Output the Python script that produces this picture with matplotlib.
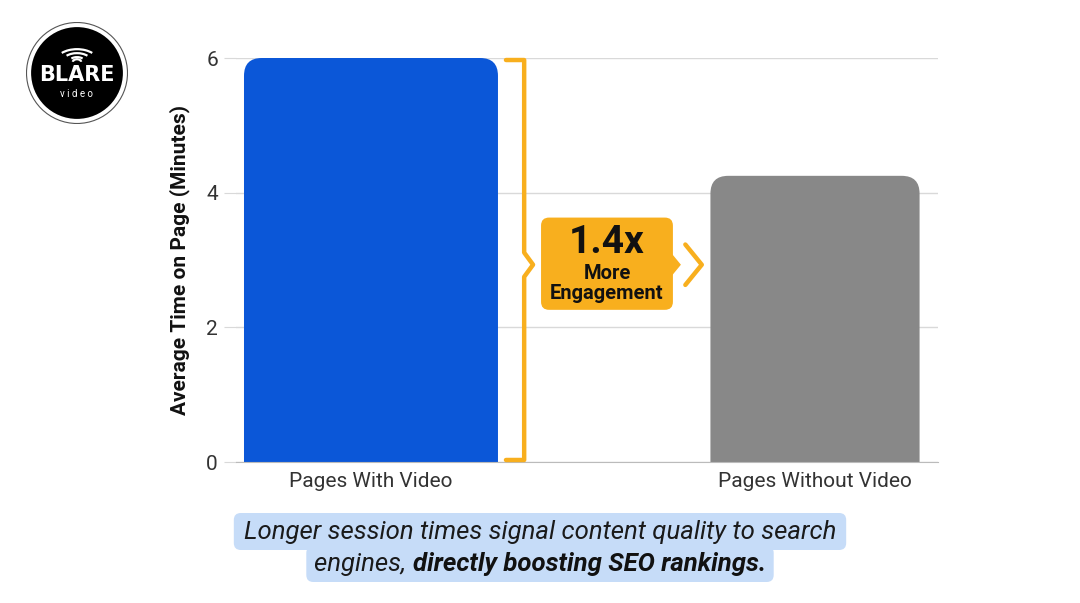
import matplotlib
matplotlib.use("Agg")
import matplotlib.pyplot as plt
from matplotlib.patches import FancyBboxPatch, Circle, Arc, Polygon
import numpy as np

categories = ["Pages With Video", "Pages Without Video"]
values = [6.0, 4.25]
bar_widths = [0.572, 0.471]
bar_colors = ["#0B57D8", "#888888"]
yticks = [0, 2, 4, 6]
ylabel = "Average Time on Page (Minutes)"
badge_big = "1.4x"
badge_small = "More\nEngagement"
caption_1 = "Longer session times signal content quality to search"
caption_2a = "engines, "
caption_2b = "directly boosting SEO rankings."

ORANGE = "#F8AF1E"
plt.rcParams["font.family"] = ["Roboto", "DejaVu Sans"]

fig = plt.figure(figsize=(10.8, 6.03), dpi=100)
ax = fig.add_axes([236 / 1080, 141 / 603, 702 / 1080, 404 / 603])

x = np.arange(len(categories))
bars = ax.bar(x, values, width=bar_widths, color=bar_colors)
# swap the plain bars for ones with rounded tops
for b in bars:
    b.set_visible(False)
    p = FancyBboxPatch((b.get_x(), -1), b.get_width(), b.get_height() + 1,
                       boxstyle="round,pad=0,rounding_size=0.04",
                       mutation_aspect=6.6, fc=b.get_facecolor(), ec="none",
                       zorder=2)
    ax.add_patch(p)

ax.set_xlim(-0.304, 1.277)
ax.set_ylim(0, 6)
ax.set_yticks(yticks)
ax.set_xticks(x, categories)
ax.grid(axis="y", color="#D9D9D9", lw=1)
ax.set_axisbelow(True)
for s in ["top", "right", "left"]:
    ax.spines[s].set_visible(False)
ax.spines["bottom"].set_color("#BBBBBB")
ax.tick_params(axis="y", length=9, color="#D9D9D9", labelsize=15, labelcolor="#333333", pad=4)
ax.tick_params(axis="x", length=0, labelsize=15, labelcolor="#333333", pad=7)
ax.set_ylabel(ylabel, fontsize=15, fontweight="bold", color="#111111", labelpad=12)

# bracket
bx, bl = 0.345, 0.304
my = 2.93
ax.plot([bl, bx, bx, 0.365, bx, bx, bl], [5.97, 5.97, my + 0.18, my, my - 0.18, 0.03, 0.03],
        color=ORANGE, lw=3.2, solid_joinstyle="round", solid_capstyle="round",
        clip_on=False, zorder=3)

# badge
x0, x1, y0, y1 = 0.383, 0.68, 2.26, 3.63
badge = FancyBboxPatch((x0, y0), x1 - x0, y1 - y0,
                       boxstyle="round,pad=0,rounding_size=0.018",
                       mutation_aspect=6.6, fc=ORANGE, ec="none", zorder=3)
ax.add_patch(badge)
ax.add_patch(Polygon([[x1 - 0.002, my + 0.16], [x1 + 0.018, my], [x1 - 0.002, my - 0.16]],
                     closed=True, fc=ORANGE, ec="none", zorder=3))
ax.plot([0.708, 0.745, 0.708], [my + 0.3, my, my - 0.3], color=ORANGE, lw=3.2,
        solid_capstyle="round", zorder=3)
ax.text((x0 + x1) / 2, 3.26, badge_big, ha="center", va="center", fontsize=28,
        fontweight="bold", color="#111111", zorder=4)
ax.text((x0 + x1) / 2, 2.65, badge_small, ha="center", va="center", fontsize=14.5,
        fontweight="bold", color="#111111", linespacing=1.12, zorder=4)

# caption
hl = "#C6DCF8"
fs = 18.5
t1 = fig.text(0.5, 1 - 532 / 603, caption_1, ha="center", va="center", fontsize=fs,
              style="italic", color="#1A1A1A")
fig.canvas.draw()
r = fig.canvas.get_renderer()
ta = fig.text(0, 1 - 564 / 603, caption_2a, ha="left", va="center", fontsize=fs,
              style="italic", color="#1A1A1A")
tb = fig.text(0, 1 - 564 / 603, caption_2b, ha="left", va="center", fontsize=fs,
              style="italic", fontweight="bold", color="#111111")
wa = ta.get_window_extent(r).width
wb = tb.get_window_extent(r).width
start = (1080 - wa - wb) / 2
ta.set_x(start / 1080)
tb.set_x((start + wa) / 1080)
e1 = t1.get_window_extent(r)
fig.patches.append(FancyBboxPatch((e1.x0 - 10, 603 - 550), e1.width + 20, 37,
                                  boxstyle="round,pad=0,rounding_size=7",
                                  transform=None, fc=hl, ec="none", zorder=0))
fig.patches.append(FancyBboxPatch((start - 8, 603 - 582), wa + wb + 16, 36,
                                  boxstyle="round,pad=0,rounding_size=7",
                                  transform=None, fc=hl, ec="none", zorder=0))

# logo
lax = fig.add_axes([26 / 1080, (603 - 124) / 603, 102 / 1080, 102 / 603])
lax.set_xlim(-1, 1)
lax.set_ylim(-1, 1)
lax.set_aspect("equal")
lax.axis("off")
lax.add_patch(Circle((0, 0), 0.99, fc="white", ec="#555555", lw=0.8))
lax.add_patch(Circle((0, 0), 0.9, fc="black", ec="none"))
for rr in [0.14, 0.26, 0.38]:
    lax.add_patch(Arc((0, 0.22), 2.2 * rr, 1.3 * rr, theta1=30, theta2=150, color="white", lw=1.6))
lax.add_patch(Arc((0, 0.22), 0.16, 0.1, theta1=0, theta2=180, color="white", lw=1.6))
lax.text(0, -0.04, "BLARE", ha="center", va="center", color="white", fontsize=15,
         fontweight="bold", family="DejaVu Sans")
lax.text(0, -0.42, "v i d e o", ha="center", va="center", color="white", fontsize=7)

fig.savefig("out.png", dpi=100, facecolor="white")
